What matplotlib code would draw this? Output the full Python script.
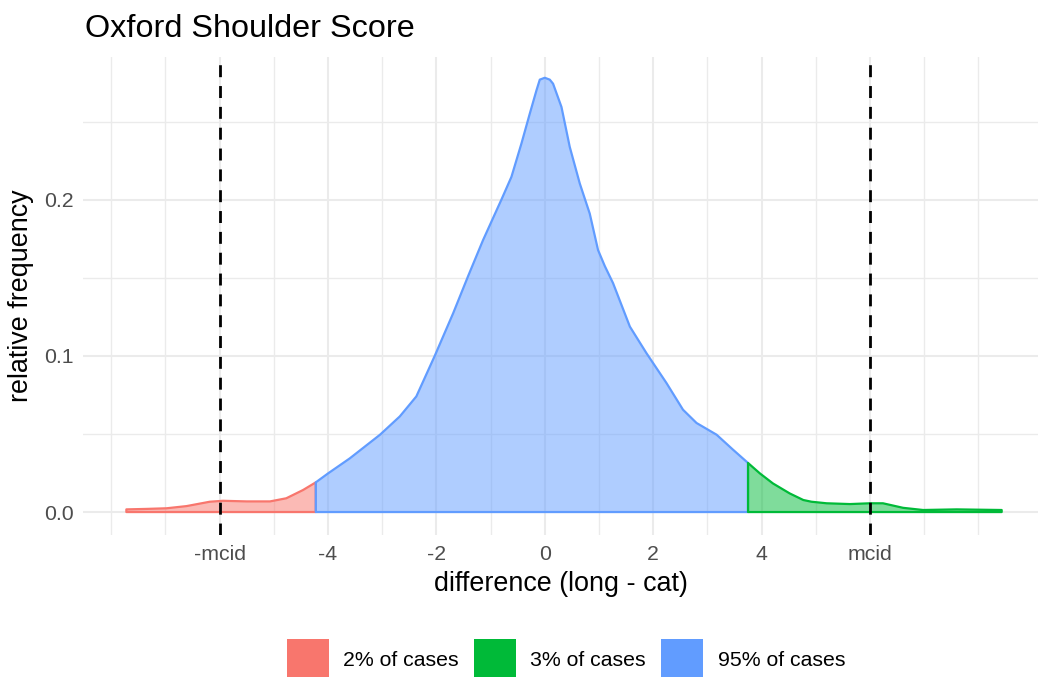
import matplotlib
matplotlib.use("Agg")
import matplotlib.pyplot as plt
from matplotlib.patches import Patch
from matplotlib.colors import to_rgba

plt.rcParams['font.family'] = ['Liberation Sans', 'DejaVu Sans']

# density curve
curve_x = [-7.72, -7.35, -6.98, -6.61, -6.18, -5.94, -5.50, -5.07, -4.77, -4.46, -4.225,
           -4.00, -3.60, -3.04, -2.675, -2.37, -2.03, -1.69, -1.415, -1.14, -0.80, -0.615,
           -0.43, -0.277, -0.153, -0.092, 0.0, 0.092, 0.153, 0.308, 0.461, 0.646, 0.83,
           0.983, 1.107, 1.26, 1.57, 1.876, 2.245, 2.55, 2.80, 3.17, 3.47, 3.75,
           3.97, 4.21, 4.52, 4.77, 4.92, 5.20, 5.63, 6.00, 6.24, 6.61, 6.98, 7.60, 8.0, 8.43]
curve_y = [0.0017, 0.0020, 0.0024, 0.0038, 0.0066, 0.0072, 0.0068, 0.0068, 0.0088, 0.0141, 0.0190,
           0.0247, 0.0343, 0.0495, 0.0612, 0.0740, 0.1000, 0.1273, 0.1510, 0.1740, 0.2000, 0.2146,
           0.2360, 0.2550, 0.2700, 0.2768, 0.2780, 0.2768, 0.2742, 0.2593, 0.2337, 0.2103, 0.1910,
           0.1677, 0.1575, 0.1465, 0.1187, 0.1017, 0.0826, 0.0655, 0.0570, 0.0495, 0.0400, 0.0314,
           0.0247, 0.0183, 0.0119, 0.0077, 0.0066, 0.0056, 0.0051, 0.0056, 0.0056, 0.0027, 0.0013,
           0.0017, 0.0015, 0.0013]

cut_low = -4.225
cut_high = 3.75
mcid = 6

groups = ["2% of cases", "3% of cases", "95% of cases"]
colors = {"2% of cases": "#F8766D", "3% of cases": "#00BA38", "95% of cases": "#619CFF"}

x_ticks = [-mcid, -4, -2, 0, 2, 4, mcid]
x_labels = ["-mcid", "-4", "-2", "0", "2", "4", "mcid"]
y_ticks = [0.0, 0.1, 0.2]

fig = plt.figure(figsize=(10.39, 6.77), dpi=100)
ax = fig.add_axes([83/1039, (677-535)/677, (1038-83)/1039, (535-57)/677])


def region(lo, hi):
    xs = [x for x in curve_x if lo <= x <= hi]
    ys = [y for x, y in zip(curve_x, curve_y) if lo <= x <= hi]
    return xs + [xs[-1], xs[0]], ys + [0, 0]


parts = {
    "2% of cases": region(-99, cut_low),
    "95% of cases": region(cut_low, cut_high),
    "3% of cases": region(cut_high, 99),
}
for g in ["2% of cases", "95% of cases", "3% of cases"]:
    px, py = parts[g]
    ax.fill(px, py, facecolor=to_rgba(colors[g], 0.5), edgecolor=colors[g],
            lw=1.6, joinstyle="round", zorder=3)

for v in [-mcid, mcid]:
    ax.axvline(v, color="black", lw=2, dashes=(4.3, 3.2), zorder=4)

ax.set_xlim(-8.52, 9.10)
ax.set_ylim(-0.0147, 0.2913)

# grid like theme_minimal
for v in range(-8, 9):
    major = v in x_ticks
    ax.axvline(v, color="#EBEBEB", lw=1.5 if major else 1.0, zorder=0)
for v in [0.0, 0.05, 0.1, 0.15, 0.2, 0.25]:
    major = v in y_ticks
    ax.axhline(v, color="#EBEBEB", lw=1.5 if major else 1.0, zorder=0)

ax.set_xticks(x_ticks)
ax.set_xticklabels(x_labels)
ax.set_yticks(y_ticks)
ax.set_yticklabels(["%.1f" % t for t in y_ticks])
ax.tick_params(length=0, labelsize=15.3, labelcolor="#4D4D4D")
ax.tick_params(axis="x", pad=7)
ax.tick_params(axis="y", pad=7)
for s in ax.spines.values():
    s.set_visible(False)

ax.set_xlabel("difference (long - cat)", fontsize=19.4, labelpad=5)
ax.set_ylabel("relative frequency", fontsize=19.4, labelpad=7)

fig.text(85/1039, (677-37)/677, "Oxford Shoulder Score", fontsize=23.3,
         va="baseline", ha="left")

handles = [Patch(facecolor=colors[g], edgecolor="none") for g in groups]
fig.legend(handles, groups, loc="center", bbox_to_anchor=(566/1039, (677-660)/677),
           ncol=3, frameon=False, fontsize=15.3, handlelength=1.97, handleheight=2.6,
           handletextpad=0.68, columnspacing=0.72, borderpad=0, borderaxespad=0)

fig.savefig("out.png", dpi=100)
